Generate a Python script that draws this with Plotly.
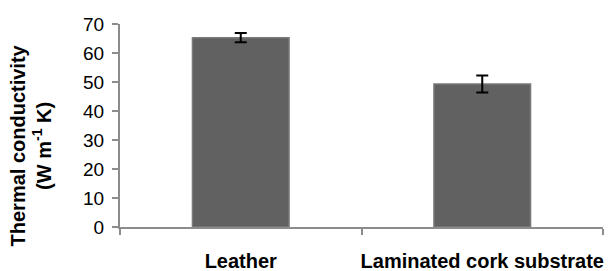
import plotly.graph_objects as go

categories = ["Leather", "Laminated cork substrate"]
values = [65.3, 49.3]
errors = [1.6, 2.9]
y_ticks = [0, 10, 20, 30, 40, 50, 60, 70]

fig = go.Figure()
fig.add_trace(go.Bar(
    x=categories,
    y=values,
    width=0.4,
    marker=dict(color="#616161", line=dict(color="#7a7a7a", width=1.5)),
    error_y=dict(type="data", array=errors, visible=True, color="black",
                 thickness=2, width=6),
))

font = "Liberation Sans, Arial, sans-serif"
# page body has an 8px default margin, so the figure is 8px smaller
fig.update_layout(
    width=605, height=263,
    margin=dict(l=112, r=10, t=16, b=44),
    paper_bgcolor="white", plot_bgcolor="white",
    showlegend=False,
    font=dict(family=font, color="black"),
    xaxis=dict(
        showline=True, linecolor="#8c8c8c", linewidth=2,
        ticks="outside", tickson="boundaries", ticklen=6, tickcolor="#8c8c8c", tickwidth=2,
        tickfont=dict(size=20, family=font, color="black", weight="bold"),
        tickangle=0,
        ticklabelstandoff=15,
        showgrid=False, zeroline=False, automargin=False,
    ),
    yaxis=dict(
        range=[0, 70], tickvals=y_ticks,
        showline=True, linecolor="#8c8c8c", linewidth=2,
        ticks="outside", ticklen=6, tickcolor="#8c8c8c", tickwidth=2,
        tickfont=dict(size=19, family=font, color="black"),
        ticklabelstandoff=4,
        showgrid=False, zeroline=False, automargin=False,
    ),
    annotations=[dict(
        text="<b>Thermal conductivity<br>(W m<sup>-1</sup> K)</b>",
        xref="paper", yref="paper", x=-0.185, y=0.40,
        xanchor="center", yanchor="middle", textangle=-90, showarrow=False,
        font=dict(size=20, family=font, color="black"),
    )],
)

fig.write_html("out.html")
